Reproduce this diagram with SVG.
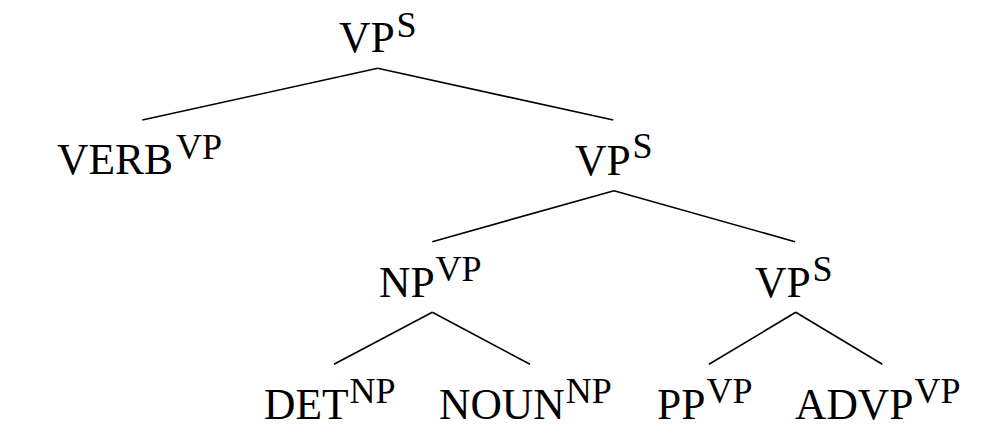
<svg xmlns="http://www.w3.org/2000/svg" width="1004" height="446" viewBox="0 0 1004 446">
<style>
text{font-family:"Liberation Serif","Times New Roman",serif;fill:#000;font-size:43.5px}
.s{font-size:36px}
line{stroke:#000;stroke-width:1.6}
</style>
<rect width="1004" height="446" fill="#fff"/>
<g id="connectors">
<line x1="377.7" y1="68.3" x2="142.3" y2="120"/>
<line x1="377.7" y1="68.3" x2="613.3" y2="120"/>
<line x1="614" y1="190.7" x2="432.3" y2="241.7"/>
<line x1="614" y1="190.7" x2="795" y2="241.7"/>
<line x1="432.3" y1="312.3" x2="334" y2="364.3"/>
<line x1="432.3" y1="312.3" x2="530" y2="364.3"/>
<line x1="795.7" y1="312.3" x2="709" y2="364.3"/>
<line x1="795.7" y1="312.3" x2="882.3" y2="364.3"/>
</g>
<g id="root"><text x="339" y="52">VP<tspan class="s" dx="2" y="37">S</tspan></text></g>
<g id="verb"><text x="57" y="173.5">VERB<tspan class="s" dx="3" y="158.5">VP</tspan></text></g>
<g id="vp2"><text x="575" y="175">VP<tspan class="s" dx="2" y="158">S</tspan></text></g>
<g id="np"><text x="379" y="297">NP<tspan class="s" dx="1" y="281">VP</tspan></text></g>
<g id="vp3"><text x="755" y="297">VP<tspan class="s" dx="2" y="281">S</tspan></text></g>
<g id="det"><text x="264" y="418.5">DET<tspan class="s" dx="1" y="402.5">NP</tspan></text></g>
<g id="noun"><text x="439" y="418.5">NOUN<tspan class="s" dx="1" y="402.5">NP</tspan></text></g>
<g id="pp"><text x="657" y="419">PP<tspan class="s" dx="1" y="403">VP</tspan></text></g>
<g id="advp"><text x="795" y="419">ADVP<tspan class="s" dx="1" y="403">VP</tspan></text></g>
</svg>
